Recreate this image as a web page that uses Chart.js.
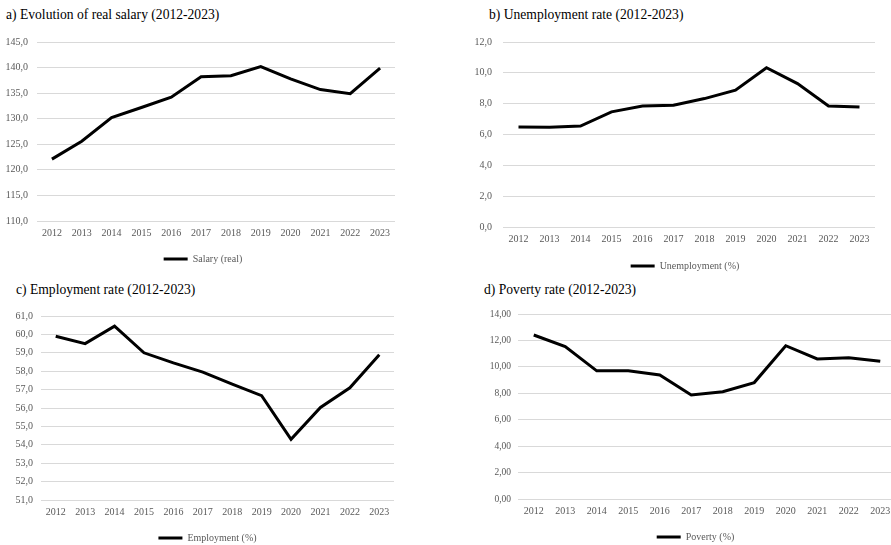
<!DOCTYPE html>
<html>
<head>
<meta charset="utf-8">
<script src="https://cdn.jsdelivr.net/npm/chart.js@4"></script>
<style>
  html, body { margin: 0; padding: 0; background: #fff; width: 891px; height: 545px; overflow: hidden; position: relative; }
  .box { position: absolute; }
  .ttl { position: absolute; font-family: "Liberation Serif", serif; font-size: 13.6px; line-height: 16px; color: #000; white-space: nowrap; }
</style>
</head>
<body>
<div class="ttl" style="left:6px;top:7px">a) Evolution of real salary (2012-2023)</div>
<div class="ttl" style="left:489px;top:7px">b) Unemployment rate (2012-2023)</div>
<div class="ttl" style="left:16px;top:282px">c) Employment rate (2012-2023)</div>
<div class="ttl" style="left:484px;top:282px">d) Poverty rate (2012-2023)</div>

<div class="box" style="left:0;top:0;width:445px;height:274px"><canvas id="chartSalary"></canvas></div>
<div class="box" style="left:445px;top:0;width:446px;height:281px"><canvas id="chartUnemp"></canvas></div>
<div class="box" style="left:0;top:272px;width:445px;height:281px"><canvas id="chartEmp"></canvas></div>
<div class="box" style="left:445px;top:272px;width:460px;height:280px"><canvas id="chartPov"></canvas></div>

<script>
// years on the x axis, same for all four panels
const years = ['2012', '2013', '2014', '2015', '2016', '2017', '2018', '2019', '2020', '2021', '2022', '2023'];

// values
const salaryReal = [122.1, 125.6, 130.2, 132.2, 134.2, 138.2, 138.4, 140.2, 137.8, 135.7, 134.9, 139.9];
const unemployment = [6.49, 6.47, 6.55, 7.47, 7.85, 7.90, 8.33, 8.88, 10.33, 9.30, 7.85, 7.79];
const employment = [59.9, 59.5, 60.45, 59.0, 58.45, 57.95, 57.3, 56.67, 54.3, 56.03, 57.1, 58.9];
const poverty = [12.41, 11.53, 9.70, 9.70, 9.38, 7.87, 8.12, 8.81, 11.60, 10.60, 10.69, 10.42];

const serif = '"Liberation Serif", "Times New Roman", serif';
const greyText = '#595959';
const gridGrey = '#d9d9d9';

// comma as decimal separator, like the original spreadsheet
const commaFmt = function (decimals) {
    return function (value) {
        return Number(value).toFixed(decimals).replace('.', ',');
    };
};

// the legend in the original is centred on the whole excel chart object,
// not on our layout box, so nudge it sideways a bit
const legendShift = {
    id: 'legendShift',
    afterLayout(chart, args, options) {
        if (chart.legend && options.dx) {
            chart.legend.left += options.dx;
            chart.legend.right += options.dx;
        }
    }
};

const makeLineChart = function (id, cfg) {
    return new Chart(document.getElementById(id), {
        type: 'line',
        data: {
            labels: years,
            datasets: [{
                label: cfg.label,
                data: cfg.data,
                borderColor: '#000',
                backgroundColor: '#000',
                borderWidth: 3,
                pointRadius: 0,
                tension: 0,
                fill: false
            }]
        },
        options: {
            responsive: true,
            maintainAspectRatio: false,
            animation: false,
            layout: {
                padding: { left: cfg.padL, right: cfg.padR, top: cfg.padT, bottom: 0 }
            },
            scales: {
                x: {
                    offset: true,
                    grid: { display: false, drawTicks: false },
                    border: { display: false },
                    ticks: {
                        color: greyText,
                        font: { family: serif, size: 10 },
                        padding: 6,
                        maxRotation: 0,
                        autoSkip: false
                    }
                },
                y: {
                    min: cfg.min,
                    max: cfg.max,
                    grid: { color: gridGrey, lineWidth: 1, drawTicks: false },
                    border: { display: false },
                    ticks: {
                        stepSize: cfg.step,
                        color: greyText,
                        font: { family: serif, size: cfg.yFont || 10 },
                        padding: cfg.tickPad,
                        callback: commaFmt(cfg.decimals)
                    },
                    afterFit: function (scale) {
                        scale.width = cfg.axisW; // keep the plot edge where the original has it
                    }
                }
            },
            plugins: {
                legend: {
                    position: 'bottom',
                    labels: {
                        usePointStyle: true,
                        pointStyle: 'line',
                        pointStyleWidth: 24,
                        padding: cfg.legendPad,
                        color: greyText,
                        font: { family: serif, size: 10 }
                    }
                },
                legendShift: { dx: cfg.legendDx },
                tooltip: { enabled: false }
            }
        },
        plugins: [legendShift]
    });
};

makeLineChart('chartSalary', {
    label: 'Salary (real)', data: salaryReal,
    min: 110, max: 145, step: 5, decimals: 1,
    padL: 5, padR: 50, padT: 42, axisW: 32, tickPad: 9, legendPad: 9, legendDx: 3
});

makeLineChart('chartUnemp', {
    label: 'Unemployment (%)', data: unemployment,
    min: 0, max: 12, step: 2, decimals: 1,
    padL: 26, padR: 16, padT: 42, axisW: 32, tickPad: 11, legendPad: 10, legendDx: 12
});

makeLineChart('chartEmp', {
    label: 'Employment (%)', data: employment,
    min: 51, max: 61, step: 1, decimals: 1,
    padL: 13, padR: 51, padT: 44, axisW: 28, tickPad: 8, legendPad: 9, legendDx: 4
});

makeLineChart('chartPov', {
    label: 'Poverty (%)', data: poverty,
    min: 0, max: 14, step: 2, decimals: 2,
    padL: 40, padR: 9, padT: 42, axisW: 33, tickPad: 7, legendPad: 9, legendDx: 5, yFont: 9.5
});
</script>
</body>
</html>
